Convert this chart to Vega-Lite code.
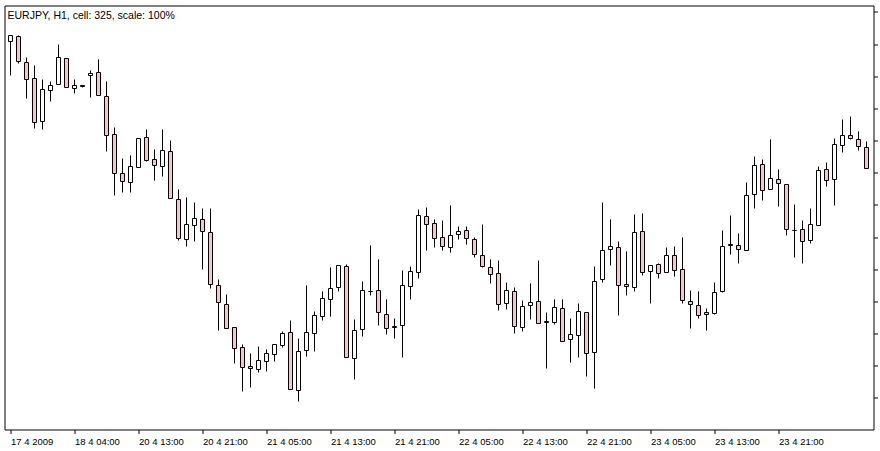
{
  "$schema": "https://vega.github.io/schema/vega-lite/v6.json",
  "autosize": {"type": "none"},
  "width": 869,
  "height": 424,
  "padding": {"left": 4.5, "top": 5.5, "right": 6.5, "bottom": 21.5},
  "background": "white",
  "title": {
    "text": "EURJPY, H1, cell: 325, scale: 100%",
    "anchor": "start",
    "frame": "group",
    "orient": "top",
    "baseline": "top",
    "offset": 0,
    "dx": 3,
    "dy": 15.5,
    "font": "Liberation Sans",
    "fontSize": 10.5,
    "fontWeight": "normal",
    "color": "black"
  },
  "config": {
    "view": {"stroke": "black", "strokeWidth": 1},
    "axis": {"grid": false, "domain": false, "tickColor": "black", "tickSize": 4, "tickWidth": 1, "labelColor": "black", "labelFont": "Liberation Sans", "labelFontSize": 9.5, "title": null}
  },
  "data": {"values": [
    {"time": "17 4 20:00", "open": 131.544, "high": 131.637, "low": 131.010, "close": 131.637},
    {"time": "17 4 21:00", "open": 131.621, "high": 131.642, "low": 131.197, "close": 131.233},
    {"time": "17 4 22:00", "open": 131.217, "high": 131.300, "low": 130.653, "close": 130.953},
    {"time": "17 4 23:00", "open": 130.969, "high": 131.176, "low": 130.186, "close": 130.285},
    {"time": "18 4 00:00", "open": 130.300, "high": 130.943, "low": 130.171, "close": 130.798},
    {"time": "18 4 01:00", "open": 130.782, "high": 130.912, "low": 130.606, "close": 130.860},
    {"time": "18 4 02:00", "open": 130.875, "high": 131.502, "low": 130.875, "close": 131.295},
    {"time": "18 4 03:00", "open": 131.279, "high": 131.279, "low": 130.829, "close": 130.829},
    {"time": "18 4 04:00", "open": 130.813, "high": 130.958, "low": 130.730, "close": 130.860},
    {"time": "20 4 06:00", "open": 130.855, "high": 130.860, "low": 130.829, "close": 130.844},
    {"time": "20 4 07:00", "open": 131.015, "high": 131.083, "low": 130.668, "close": 131.046},
    {"time": "20 4 08:00", "open": 131.062, "high": 131.254, "low": 130.704, "close": 130.704},
    {"time": "20 4 09:00", "open": 130.689, "high": 130.927, "low": 129.829, "close": 130.083},
    {"time": "20 4 10:00", "open": 130.098, "high": 130.212, "low": 129.145, "close": 129.482},
    {"time": "20 4 11:00", "open": 129.492, "high": 129.715, "low": 129.191, "close": 129.368},
    {"time": "20 4 12:00", "open": 129.352, "high": 129.777, "low": 129.191, "close": 129.601},
    {"time": "20 4 13:00", "open": 129.585, "high": 130.036, "low": 129.585, "close": 130.036},
    {"time": "20 4 14:00", "open": 130.052, "high": 130.166, "low": 129.678, "close": 129.694},
    {"time": "20 4 15:00", "open": 129.710, "high": 129.855, "low": 129.378, "close": 129.616},
    {"time": "20 4 16:00", "open": 129.601, "high": 130.166, "low": 129.440, "close": 129.849},
    {"time": "20 4 17:00", "open": 129.834, "high": 130.010, "low": 129.103, "close": 129.103},
    {"time": "20 4 18:00", "open": 129.088, "high": 129.233, "low": 128.445, "close": 128.482},
    {"time": "20 4 19:00", "open": 128.466, "high": 129.124, "low": 128.352, "close": 128.699},
    {"time": "20 4 20:00", "open": 128.684, "high": 129.031, "low": 128.430, "close": 128.792},
    {"time": "20 4 21:00", "open": 128.777, "high": 128.953, "low": 127.995, "close": 128.590},
    {"time": "20 4 22:00", "open": 128.575, "high": 128.953, "low": 127.699, "close": 127.767},
    {"time": "20 4 23:00", "open": 127.751, "high": 127.844, "low": 127.046, "close": 127.487},
    {"time": "21 4 00:00", "open": 127.456, "high": 127.601, "low": 127.083, "close": 127.083},
    {"time": "21 4 01:00", "open": 127.098, "high": 127.098, "low": 126.533, "close": 126.772},
    {"time": "21 4 02:00", "open": 126.787, "high": 126.834, "low": 126.098, "close": 126.476},
    {"time": "21 4 03:00", "open": 126.492, "high": 126.699, "low": 126.160, "close": 126.461},
    {"time": "21 4 04:00", "open": 126.445, "high": 126.803, "low": 126.399, "close": 126.585},
    {"time": "21 4 05:00", "open": 126.570, "high": 126.756, "low": 126.409, "close": 126.694},
    {"time": "21 4 06:00", "open": 126.678, "high": 126.834, "low": 126.564, "close": 126.834},
    {"time": "21 4 07:00", "open": 126.818, "high": 127.026, "low": 126.787, "close": 127.005},
    {"time": "21 4 08:00", "open": 127.020, "high": 127.207, "low": 126.134, "close": 126.134},
    {"time": "21 4 09:00", "open": 126.119, "high": 126.932, "low": 125.948, "close": 126.725},
    {"time": "21 4 10:00", "open": 126.741, "high": 127.741, "low": 126.642, "close": 127.020},
    {"time": "21 4 11:00", "open": 127.005, "high": 127.347, "low": 126.725, "close": 127.285},
    {"time": "21 4 12:00", "open": 127.269, "high": 127.658, "low": 127.202, "close": 127.549},
    {"time": "21 4 13:00", "open": 127.533, "high": 128.031, "low": 127.264, "close": 127.704},
    {"time": "21 4 14:00", "open": 127.720, "high": 128.062, "low": 127.658, "close": 128.062},
    {"time": "21 4 15:00", "open": 128.046, "high": 128.077, "low": 126.632, "close": 126.632},
    {"time": "21 4 16:00", "open": 126.616, "high": 127.223, "low": 126.290, "close": 127.052},
    {"time": "21 4 17:00", "open": 127.067, "high": 127.813, "low": 126.958, "close": 127.673},
    {"time": "21 4 18:00", "open": 127.658, "high": 128.373, "low": 127.596, "close": 127.653},
    {"time": "21 4 19:00", "open": 127.673, "high": 128.155, "low": 127.129, "close": 127.331},
    {"time": "21 4 20:00", "open": 127.300, "high": 127.533, "low": 126.989, "close": 127.083},
    {"time": "21 4 21:00", "open": 127.109, "high": 127.238, "low": 126.927, "close": 127.103},
    {"time": "21 4 22:00", "open": 127.129, "high": 127.984, "low": 126.632, "close": 127.751},
    {"time": "21 4 23:00", "open": 127.735, "high": 128.046, "low": 127.533, "close": 127.969},
    {"time": "22 4 00:00", "open": 127.953, "high": 128.932, "low": 127.860, "close": 128.839},
    {"time": "22 4 01:00", "open": 128.824, "high": 128.963, "low": 128.295, "close": 128.699},
    {"time": "22 4 02:00", "open": 128.715, "high": 128.777, "low": 128.342, "close": 128.482},
    {"time": "22 4 03:00", "open": 128.497, "high": 128.761, "low": 128.295, "close": 128.357},
    {"time": "22 4 04:00", "open": 128.342, "high": 128.995, "low": 128.264, "close": 128.528},
    {"time": "22 4 05:00", "open": 128.544, "high": 128.668, "low": 128.466, "close": 128.590},
    {"time": "22 4 06:00", "open": 128.606, "high": 128.668, "low": 128.388, "close": 128.482},
    {"time": "22 4 07:00", "open": 128.466, "high": 128.497, "low": 128.186, "close": 128.233},
    {"time": "22 4 08:00", "open": 128.217, "high": 128.699, "low": 128.031, "close": 128.046},
    {"time": "22 4 09:00", "open": 128.031, "high": 128.155, "low": 127.782, "close": 127.922},
    {"time": "22 4 10:00", "open": 127.938, "high": 128.140, "low": 127.362, "close": 127.456},
    {"time": "22 4 11:00", "open": 127.471, "high": 127.798, "low": 127.378, "close": 127.673},
    {"time": "22 4 12:00", "open": 127.658, "high": 127.720, "low": 127.005, "close": 127.114},
    {"time": "22 4 13:00", "open": 127.098, "high": 127.518, "low": 127.036, "close": 127.425},
    {"time": "22 4 14:00", "open": 127.440, "high": 127.782, "low": 127.223, "close": 127.487},
    {"time": "22 4 15:00", "open": 127.502, "high": 128.140, "low": 127.160, "close": 127.160},
    {"time": "22 4 16:00", "open": 127.186, "high": 127.331, "low": 126.461, "close": 127.176},
    {"time": "22 4 17:00", "open": 127.176, "high": 127.533, "low": 127.145, "close": 127.409},
    {"time": "22 4 18:00", "open": 127.393, "high": 127.533, "low": 126.881, "close": 126.881},
    {"time": "22 4 19:00", "open": 126.912, "high": 127.238, "low": 126.554, "close": 126.989},
    {"time": "22 4 20:00", "open": 126.974, "high": 127.471, "low": 126.632, "close": 127.347},
    {"time": "22 4 21:00", "open": 127.331, "high": 127.331, "low": 126.336, "close": 126.694},
    {"time": "22 4 22:00", "open": 126.710, "high": 128.046, "low": 126.150, "close": 127.813},
    {"time": "22 4 23:00", "open": 127.844, "high": 129.041, "low": 127.798, "close": 128.295},
    {"time": "23 4 00:00", "open": 128.311, "high": 128.777, "low": 128.062, "close": 128.357},
    {"time": "23 4 01:00", "open": 128.342, "high": 128.435, "low": 127.285, "close": 127.751},
    {"time": "23 4 02:00", "open": 127.767, "high": 128.279, "low": 127.596, "close": 127.735},
    {"time": "23 4 03:00", "open": 127.720, "high": 128.855, "low": 127.658, "close": 128.575},
    {"time": "23 4 04:00", "open": 128.590, "high": 128.870, "low": 127.906, "close": 127.953},
    {"time": "23 4 05:00", "open": 127.969, "high": 128.062, "low": 127.471, "close": 128.062},
    {"time": "23 4 06:00", "open": 128.077, "high": 128.093, "low": 127.860, "close": 127.938},
    {"time": "23 4 07:00", "open": 127.953, "high": 128.342, "low": 127.953, "close": 128.217},
    {"time": "23 4 08:00", "open": 128.217, "high": 128.357, "low": 127.891, "close": 127.984},
    {"time": "23 4 09:00", "open": 128.000, "high": 128.497, "low": 127.471, "close": 127.518},
    {"time": "23 4 10:00", "open": 127.502, "high": 127.673, "low": 127.083, "close": 127.456},
    {"time": "23 4 11:00", "open": 127.440, "high": 127.658, "low": 127.238, "close": 127.285},
    {"time": "23 4 12:00", "open": 127.331, "high": 127.393, "low": 127.052, "close": 127.300},
    {"time": "23 4 13:00", "open": 127.316, "high": 127.798, "low": 127.300, "close": 127.642},
    {"time": "23 4 14:00", "open": 127.658, "high": 128.606, "low": 127.642, "close": 128.357},
    {"time": "23 4 15:00", "open": 128.383, "high": 128.839, "low": 128.233, "close": 128.378},
    {"time": "23 4 16:00", "open": 128.373, "high": 128.559, "low": 128.093, "close": 128.311},
    {"time": "23 4 17:00", "open": 128.295, "high": 129.352, "low": 128.295, "close": 129.150},
    {"time": "23 4 18:00", "open": 129.166, "high": 129.756, "low": 128.948, "close": 129.616},
    {"time": "23 4 19:00", "open": 129.632, "high": 129.710, "low": 129.072, "close": 129.228},
    {"time": "23 4 20:00", "open": 129.243, "high": 130.020, "low": 129.243, "close": 129.414},
    {"time": "23 4 21:00", "open": 129.399, "high": 129.554, "low": 128.979, "close": 129.336},
    {"time": "23 4 22:00", "open": 129.321, "high": 129.321, "low": 128.528, "close": 128.621},
    {"time": "23 4 23:00", "open": 128.606, "high": 129.010, "low": 128.186, "close": 128.596},
    {"time": "24 4 00:00", "open": 128.621, "high": 128.761, "low": 128.093, "close": 128.435},
    {"time": "24 4 01:00", "open": 128.450, "high": 128.948, "low": 128.404, "close": 128.699},
    {"time": "24 4 02:00", "open": 128.684, "high": 129.601, "low": 128.684, "close": 129.539},
    {"time": "24 4 03:00", "open": 129.554, "high": 129.663, "low": 129.290, "close": 129.383},
    {"time": "24 4 04:00", "open": 129.399, "high": 130.036, "low": 128.995, "close": 129.943},
    {"time": "24 4 05:00", "open": 129.927, "high": 130.331, "low": 129.818, "close": 130.083},
    {"time": "24 4 06:00", "open": 130.083, "high": 130.378, "low": 130.020, "close": 130.036},
    {"time": "24 4 07:00", "open": 130.020, "high": 130.145, "low": 129.849, "close": 129.912},
    {"time": "24 4 08:00", "open": 129.896, "high": 129.989, "low": 129.570, "close": 129.570}
  ]},
  "encoding": {
    "x": {
      "field": "time",
      "type": "ordinal",
      "sort": null,
      "scale": {"type": "point", "padding": 0, "range": [6, 862]},
      "axis": {
        "orient": "bottom",
        "values": ["17 4 20:00", "18 4 04:00", "20 4 13:00", "20 4 21:00", "21 4 05:00", "21 4 13:00", "21 4 21:00", "22 4 05:00", "22 4 13:00", "22 4 21:00", "23 4 05:00", "23 4 13:00", "23 4 21:00"],
        "labelExpr": "datum.value == '17 4 20:00' ? '17 4 2009' : datum.value",
        "labelAlign": "left",
        "labelAngle": 0,
        "labelPadding": 3,
        "labelDx": 1
      }
    },
    "y": {
      "type": "quantitative",
      "scale": {"domain": [125.510, 132.101], "nice": false, "zero": false, "round": true},
      "axis": {
        "orient": "right",
        "values": [126, 126.5, 127, 127.5, 128, 128.5, 129, 129.5, 130, 130.5, 131, 131.5, 132],
        "labels": false
      }
    }
  },
  "layer": [
    {
      "mark": {"type": "rule", "color": "black", "strokeWidth": 1},
      "encoding": {
        "y": {"field": "low", "type": "quantitative"},
        "y2": {"field": "high"}
      }
    },
    {
      "mark": {"type": "bar", "size": 4, "stroke": "black", "strokeWidth": 1},
      "encoding": {
        "y": {"field": "open", "type": "quantitative"},
        "y2": {"field": "close"},
        "fill": {
          "condition": {"test": "datum.open > datum.close", "value": "#FFC0CB"},
          "value": "white"
        }
      }
    }
  ]
}
